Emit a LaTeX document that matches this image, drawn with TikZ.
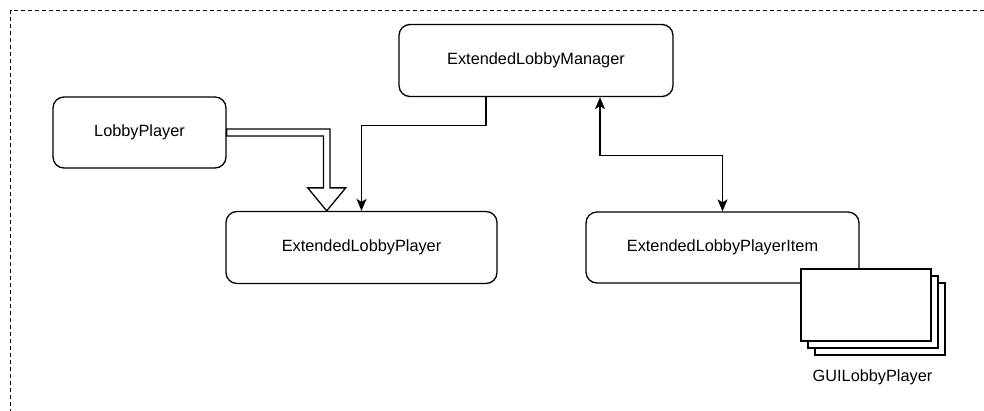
\documentclass[tikz,border=0pt]{standalone}
\usepackage{fontspec}
\setmainfont{Liberation Sans}
\usetikzlibrary{arrows.meta,calc}
\begin{document}
\begin{tikzpicture}[x=1pt,y=-1pt,
  lbl/.style={font=\fontsize{16.3}{19}\selectfont},
  box/.style={draw,line width=1.3pt,rounded corners=11pt,fill=white,align=center,
    lbl,inner sep=0pt},
  conn/.style={draw,line width=1.3pt,-{Stealth[length=12pt,width=10pt,inset=3pt]}},
  biconn/.style={draw,line width=1.3pt,
    {Stealth[length=12pt,width=10pt,inset=3pt]}-{Stealth[length=12pt,width=10pt,inset=3pt]}},
  sheet/.style={draw,line width=1.3pt,fill=white,minimum width=130pt,minimum height=72pt,inner sep=0pt},
  hollow/.style={draw,line width=1.3pt,fill=white,line join=miter}]
\useasboundingbox (0,0) rectangle (984,410);
% dashed frame, running off the right and bottom edges
\begin{scope}
\clip (0,0) rectangle (984,410);
\draw[line width=1.1pt,dash pattern=on 4pt off 3pt] (10.5,420) -- (10.5,10.5) -- (995,10.5);
\end{scope}

\node[box,minimum width=173pt,minimum height=71pt] (lp) at (139.5,132.5) {LobbyPlayer};
\node[box,minimum width=274pt,minimum height=72pt] (elm) at (536,60.5) {ExtendedLobbyManager};
\node[box,minimum width=271pt,minimum height=72pt] (elp) at (361.5,247.5) {ExtendedLobbyPlayer};
\node[box,minimum width=273pt,minimum height=71pt] (elpi) at (722.5,247.5) {ExtendedLobbyPlayerItem};

% inheritance arrow: LobbyPlayer -> ExtendedLobbyPlayer (hollow block arrow)
\coordinate (tip) at ($(elp.north)+(-34.8,0)$);
\path[hollow]
  ($(lp.east)+(0,-3.5)$) -- ($(tip|-lp.east)+(3.3,-3.5)$)
  -- ($(tip)+(3.3,-23)$) -- ($(tip)+(19,-23)$) -- (tip)
  -- ($(tip)+(-19,-23)$) -- ($(tip)+(-3.3,-23)$)
  -- ($(tip|-lp.east)+(-3.3,3.5)$) -- ($(lp.east)+(0,3.5)$) -- cycle;

% manager -> extended player
\coordinate (m1) at ($(elm.south)+(-50,0)$);
\draw[conn] (m1) -- ++(0,28) -| (elp.north);

% manager <-> player item
\coordinate (m2) at ($(elm.south)+(64,0)$);
\draw[biconn] (m2) -- ++(0,58) -| (elpi.north);

% stacked GUI sheets
\node[sheet] (g3) at (880,319) {};
\node[sheet] (g2) at (873,312) {};
\node[sheet] (g1) at (866,305) {};
\node[lbl,anchor=center] (gl) at (872.5,377) {GUILobbyPlayer};
\end{tikzpicture}
\end{document}
